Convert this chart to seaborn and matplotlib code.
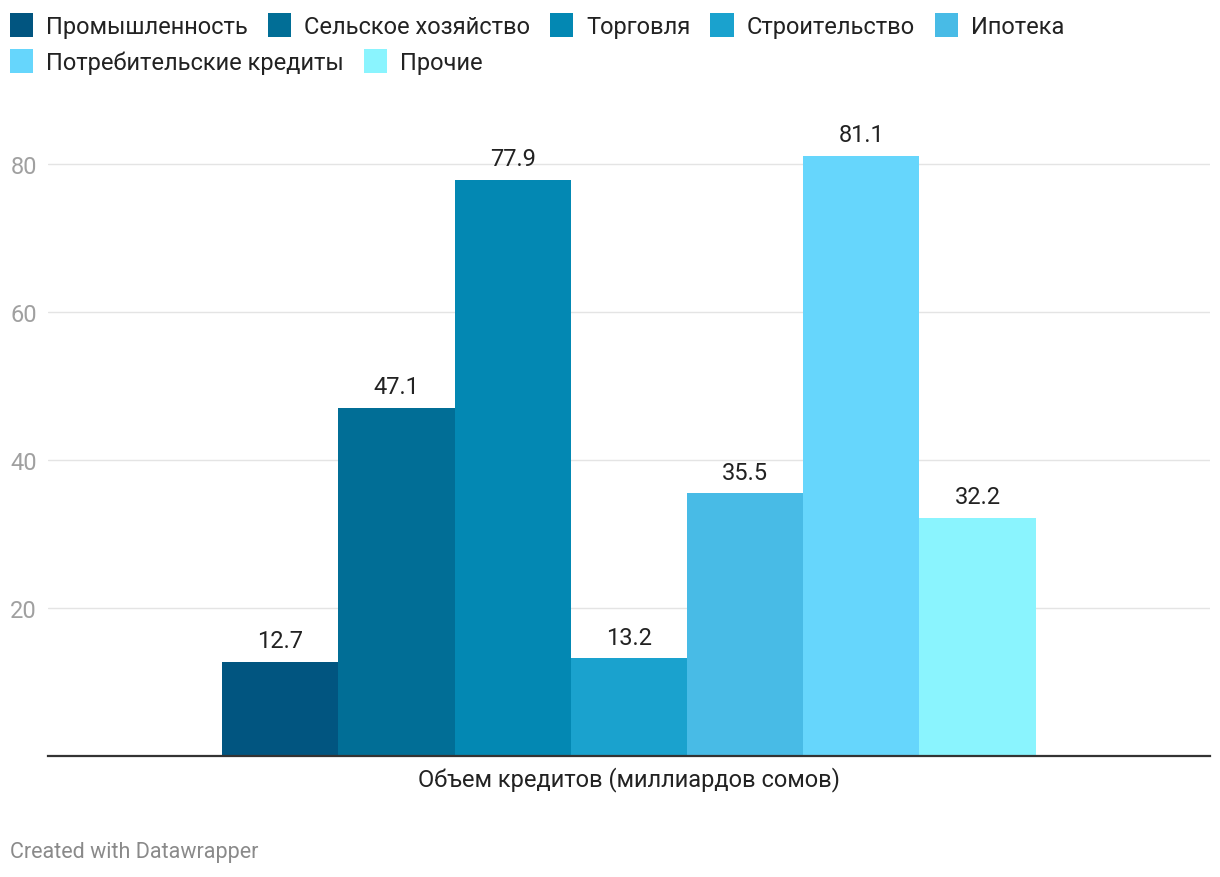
import pandas as pd
import seaborn as sns
import matplotlib.pyplot as plt

# Data
sectors = ["Промышленность", "Сельское хозяйство", "Торговля", "Строительство",
           "Ипотека", "Потребительские кредиты", "Прочие"]
values = [12.7, 47.1, 77.9, 13.2, 35.5, 81.1, 32.2]
group_label = "Объем кредитов (миллиардов сомов)"
colors = ["#015580", "#016e96", "#0388b3", "#1aa2ce", "#48bbe6", "#66d6fc", "#8af4fe"]
y_ticks = [20, 40, 60, 80]

df = pd.DataFrame({"group": [group_label] * len(sectors), "sector": sectors, "value": values})

sns.set_theme(style="white")
plt.rcParams["font.family"] = ["Roboto", "DejaVu Sans"]

FS = 17

fig = plt.figure(figsize=(12.2, 8.78), dpi=100)
ax = fig.add_axes([0.0393, 0.1378, 0.9525, 0.716])

sns.barplot(data=df, x="group", y="value", hue="sector", hue_order=sectors,
            palette=colors, width=0.7, linewidth=0, saturation=1, ax=ax)

for cont in ax.containers:
    ax.bar_label(cont, fmt="%.1f", padding=7, fontsize=FS, color="#222222")

ax.set_ylim(0, 85)
ax.set_xlim(-0.5, 0.5)
ax.set_yticks(y_ticks)
ax.yaxis.grid(True, color="#e4e4e4", linewidth=1)
ax.set_axisbelow(True)
ax.tick_params(axis="y", length=0, pad=8, labelsize=FS, labelcolor="#a0a0a0")
ax.tick_params(axis="x", length=0, pad=7, labelsize=FS, labelcolor="#222222")
ax.set_xlabel("")
ax.set_ylabel("")
for s in ["top", "right", "left"]:
    ax.spines[s].set_visible(False)
ax.spines["bottom"].set_color("#333333")
ax.spines["bottom"].set_linewidth(1.6)

# Legend in two rows, like Datawrapper's wrapping legend
handles, labels = ax.get_legend_handles_labels()
ax.get_legend().remove()
leg_kw = dict(frameon=False, fontsize=FS, handlelength=0.98, handleheight=1.2,
              handletextpad=0.55, columnspacing=0.85, borderaxespad=0, borderpad=0,
              labelcolor="#222222")
fig.legend(handles[:5], labels[:5], ncol=5, loc="center left",
           bbox_to_anchor=(0.008, 0.970), **leg_kw)
fig.legend(handles[5:], labels[5:], ncol=2, loc="center left",
           bbox_to_anchor=(0.008, 0.929), **leg_kw)

fig.text(0.008, 0.029, "Created with Datawrapper", fontsize=15.5, color="#8a8a8a",
         ha="left", va="center")

fig.savefig("out.png", dpi=100)
